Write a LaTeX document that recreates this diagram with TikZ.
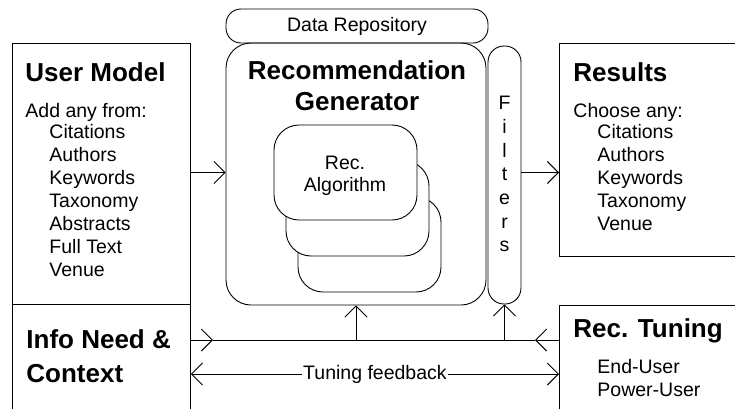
\documentclass[tikz,border=0pt]{standalone}
\usepackage{fontspec}
\setmainfont{Liberation Sans}
\usetikzlibrary{arrows.meta}

\tikzset{
  box/.style={draw, line width=0.9pt, inner sep=0pt, anchor=north west},
  roundbox/.style={draw, line width=0.9pt, inner sep=0pt, rounded corners=#1},
  algobox/.style={roundbox=25pt, fill=white, minimum width=143pt, minimum height=95pt},
  head/.style={font=\fontsize{26}{31}\selectfont\bfseries, inner sep=0pt, anchor=base west},
  body/.style={font=\fontsize{19.5}{23}\selectfont, inner sep=0pt, anchor=base west},
}

\begin{document}
\begin{tikzpicture}[x=1pt, y=-1pt, line width=0.9pt, >={Straight Barb[length=11pt,width=22pt]}]
			%%%%% FRAME %%%%%
			\useasboundingbox (0,0) rectangle (735,408);
			\clip (0,0) rectangle (735,408);
			
			%%%%% OUTER BOXES %%%%%
			\node[box, minimum width=178pt, minimum height=261pt] (usermodel) at (12,43) {};
			\node[box, minimum width=178pt, minimum height=120pt] (info) at (12,304) {};
			\node[box, minimum width=190pt, minimum height=213pt] (results) at (559,43) {};
			\node[box, minimum width=190pt, minimum height=120pt] (tuning) at (559,305) {};
			
			%%%%% GENERATOR %%%%%
			\node[roundbox=15pt, minimum width=262pt, minimum height=34pt, font=\fontsize{19.5}{23}\selectfont] (repo) at (357,26) {Data Repository};
			\node[roundbox=25pt, minimum width=260pt, minimum height=262pt] (recgen) at (356,174) {};
			\node[roundbox=16pt, minimum width=33pt, minimum height=258pt] (filters) at (504.5,175) {};
			
			\node[algobox] (algo3) at (369.5,244.5) {};
			\node[algobox] (algo2) at (357.5,208.5) {};
			\node[algobox] (algo1) at (345.5,172.5) {};
			
			%%%%% TEXT %%%%%
			\node[head] (umtitle) at (25,81) {User Model};
			\node[body] (umintro) at (25,117) {Add any from:};
			\foreach \w [count=\i] in {Citations,Authors,Keywords,Taxonomy,Abstracts,Full Text,Venue}
				\node[body] (um\i) at (49,{116+22.9*\i}) {\w};
			
			\node[head] (restitle) at (573,81) {Results};
			\node[body] (resintro) at (573,117) {Choose any:};
			\foreach \w [count=\i] in {Citations,Authors,Keywords,Taxonomy,Venue}
				\node[body] (res\i) at (597,{116+22.9*\i}) {\w};
			
			\node[head] (infotitle) at (26,348) {Info Need \&};
			\node[head] (infotitle2) at (26,382) {Context};
			
			\node[head] (tuntitle) at (573,337) {Rec. Tuning};
			\node[body] (tun1) at (597,373) {End-User};
			\node[body] (tun2) at (597,396) {Power-User};
			
			\node[head, anchor=base] (gentitle) at (357,79) {Recommendation};
			\node[head, anchor=base] (gentitle2) at (357,110) {Generator};
			
			\node[body, anchor=base] (algotext) at (345,169) {Rec.};
			\node[body, anchor=base] (algotext2) at (345,191) {Algorithm};
			
			\foreach \c [count=\i] in {F,i,l,t,e,r,s}
				\node[body, anchor=base] (flt\i) at (504.5,{86.3+23.67*\i}) {\c};
			
			%%%%% CONNECTORS %%%%%
			\coordinate (bus) at (0,340);
			\coordinate (fb) at (0,374);
			\coordinate (busin) at (213,340);
			\coordinate (busout) at (535,340);
			
			\draw[->] (usermodel.east |- algo1) -- (recgen.west |- algo1);
			\draw[->] (filters.east |- algo1) -- (results.west |- algo1);
			
			\draw[->] (info.east |- bus) -- (busin);
			\draw (busin) -- (busout);
			\draw[->] (tuning.west |- bus) -- (busout);
			\draw[->] (recgen.south |- bus) -- (recgen.south);
			\draw[->] (filters.south |- bus) -- (filters.south);
			
			\draw[<->] (info.east |- fb) -- node[body, anchor=center, fill=white, inner sep=1pt] (fblabel) {Tuning feedback} (tuning.west |- fb);
			
			%%%%% END %%%%%
		\end{tikzpicture}
\end{document}
